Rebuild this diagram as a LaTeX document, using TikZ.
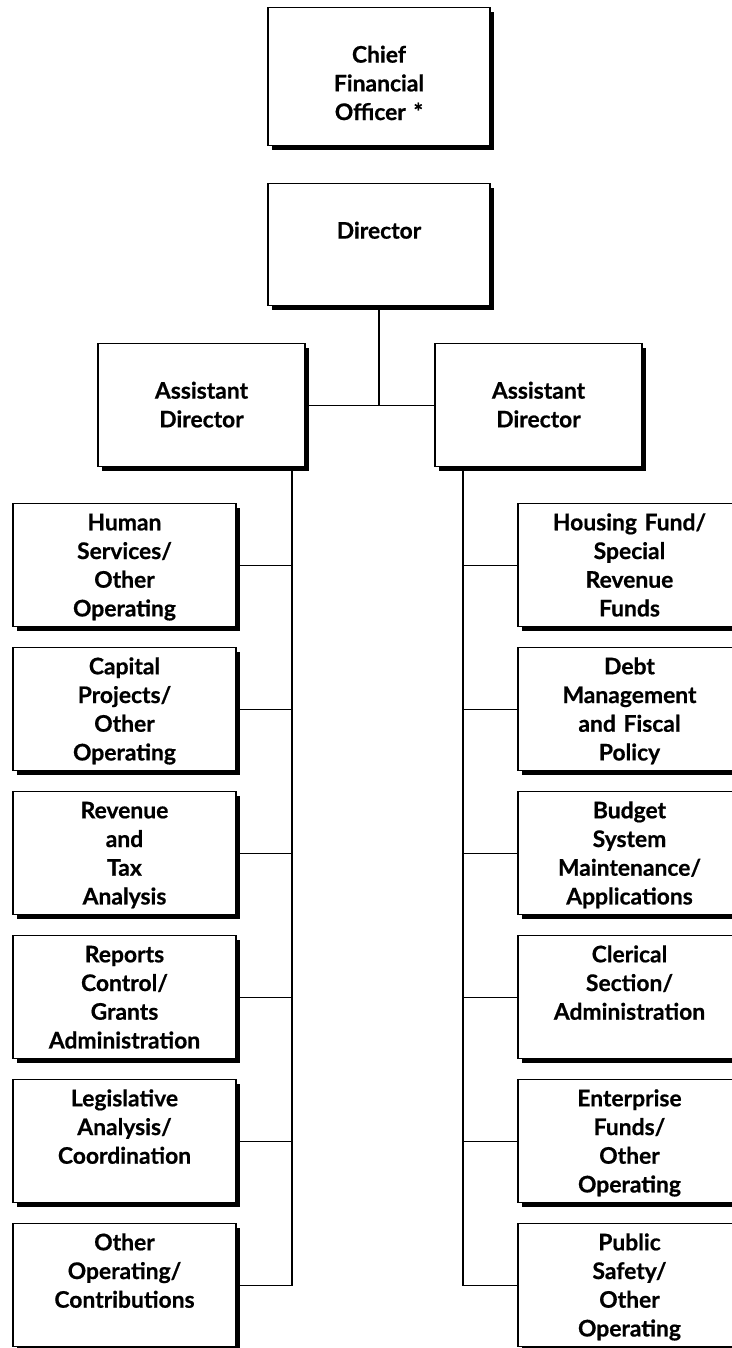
\documentclass[tikz,border=0pt]{standalone}
\usepackage{fontspec}
\setmainfont{Lato}[BoldFeatures={FakeBold=0.6}]
\usetikzlibrary{positioning, shadows}

\begin{document}
\begin{tikzpicture}[x=0.03cm, y=-0.03cm,
  box/.style={rectangle, draw=black, fill=white, line width=1.1pt, inner xsep=0pt, inner ysep=0pt, align=center,
    font=\fontsize{19.5}{24.5}\selectfont\bfseries,
    drop shadow={shadow xshift=0.12cm, shadow yshift=-0.12cm, fill=black, opacity=1}},
  headblock/.style={box, text width=6.66cm, text height=1.65cm},
  assistblock/.style={box, text width=6.21cm, text height=1.65cm, text depth=2.04cm},
  unitblock/.style={box, text width=6.69cm, text height=0.8cm, text depth=2.89cm},
  line/.style={line width=1.1pt}]

\useasboundingbox (0,0) rectangle (732,1348);

\node[headblock, text depth=2.49cm, anchor=north] (cfo) at (379,7) {Chief\\ Financial\\ Officer *};
\node[headblock, text depth=2.01cm, anchor=north] (dir) at (379,183) {Director};
\node[assistblock, anchor=north] (adl) at (201.5,343) {Assistant\\ Director};
\node[assistblock, anchor=north] (adr) at (538.5,343) {Assistant\\ Director};

% left units
\node[unitblock, anchor=north] (hs) at (124.5,503) {Human\\ Services/\\ Other\\ Operating};
\node[unitblock, anchor=north] (cp) at (124.5,647) {Capital\\ Projects/\\ Other\\ Operating};
\node[unitblock, anchor=north] (rt) at (124.5,791) {Revenue\\ and\\ Tax\\ Analysis};
\node[unitblock, anchor=north] (rc) at (124.5,935) {Reports\\ Control/\\ Grants\\ Administration};
\node[unitblock, anchor=north] (la) at (124.5,1079) {Legislative\\ Analysis/\\ Coordination};
\node[unitblock, anchor=north] (oc) at (124.5,1223) {Other\\ Operating/\\ Contributions};

% right units
\node[unitblock, anchor=north] (hf) at (629.5,503) {Housing Fund/\\ Special\\ Revenue\\ Funds};
\node[unitblock, anchor=north] (dm) at (629.5,647) {Debt\\ Management\\ and Fiscal\\ Policy};
\node[unitblock, anchor=north] (bs) at (629.5,791) {Budget\\ System\\ Maintenance/\\ Applications};
\node[unitblock, anchor=north] (cs) at (629.5,935) {Clerical\\ Section/\\ Administration};
\node[unitblock, anchor=north] (ef) at (629.5,1079) {Enterprise\\ Funds/\\ Other\\ Operating};
\node[unitblock, anchor=north] (ps) at (629.5,1223) {Public\\ Safety/\\ Other\\ Operating};

\coordinate (lspine) at (292,466);
\coordinate (rspine) at (463,466);

\draw[line] (dir.south) -- (dir.south |- adl.east);
\draw[line] (adl.east) -- (adr.west);

\draw[line] (lspine) |- (oc.east);
\foreach \n in {hs,cp,rt,rc,la}
  \draw[line] (\n.east) -- (\n.east -| lspine);

\draw[line] (rspine) |- (ps.west);
\foreach \n in {hf,dm,bs,cs,ef}
  \draw[line] (\n.west) -- (\n.west -| rspine);

\end{tikzpicture}
\end{document}
